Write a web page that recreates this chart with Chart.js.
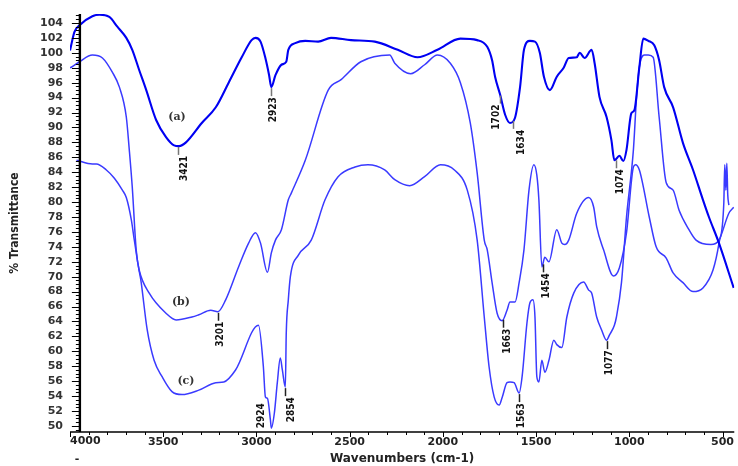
<!DOCTYPE html>
<html><head><meta charset="utf-8">
<script src="https://cdn.jsdelivr.net/npm/chart.js@4.4.1/dist/chart.umd.min.js"></script>
<style>html,body{margin:0;padding:0;background:#fff;}#wrap{width:738px;height:466px;}</style>
</head><body><div id="wrap"><canvas id="c" width="738" height="466"></canvas></div>
<script>
// ---- data (wavenumber cm-1, % transmittance) ----
const aWave = [4000,3976,3949,3880,3842,3789,3746,3698,3666,3629,3591,3538,3485,3442,3415,3378,3293,3218,3149,3079,3026,3005,2978,2952,2932,2920,2898,2866,2840,2829,2792,2738,2669,2600,2493,2365,2242,2136,2029,1906,1816,1762,1736,1720,1693,1666,1640,1613,1586,1565,1533,1506,1480,1458,1426,1389,1352,1325,1282,1266,1240,1202,1186,1160,1122,1096,1080,1053,1032,1015,989,973,946,925,898,866,840,813,765,712,658,605,573,519,440];
const aT    = [100.3,102.8,103.7,104.9,105.1,104.8,103.5,102.0,100.4,97.7,95.0,91.0,88.7,87.6,87.5,88.0,90.6,92.7,96.0,99.4,101.7,102.0,101.5,99.3,97.0,95.4,97.0,98.4,98.8,100.4,101.3,101.6,101.5,102.0,101.7,101.5,100.4,99.4,100.4,101.9,101.7,100.8,99.0,96.8,94.4,91.7,90.6,91.3,95.4,100.4,101.6,101.5,100.0,96.8,95.0,96.8,98.0,99.3,99.4,100.0,99.3,100.4,98.6,94.1,91.4,88.3,85.6,86.2,85.5,87.0,91.9,92.3,98.1,101.9,101.6,101.0,99.0,95.4,92.7,87.9,84.3,80.3,78.0,74.5,68.5];

const bWave = [3965,3880,3858,3805,3762,3719,3698,3671,3655,3629,3575,3485,3431,3346,3309,3245,3207,3165,3096,3042,3005,2978,2941,2920,2898,2866,2829,2813,2738,2615,2546,2440,2285,2258,2173,2098,2029,1960,1906,1853,1816,1778,1762,1736,1709,1682,1656,1640,1613,1591,1565,1538,1512,1496,1485,1469,1453,1431,1389,1362,1346,1325,1282,1218,1191,1175,1138,1085,1053,1015,978,967,946,893,856,802,765,712,658,605,551,519,493,488,482,477,472,466];
const bT    = [85.6,85.1,85.1,84.3,83.2,81.6,80.6,77.6,74.9,70.9,67.8,65.1,64.2,64.6,64.9,65.5,65.3,66.9,71.3,74.5,75.9,74.5,70.6,73.2,74.9,76.3,80.3,81.2,85.6,95.0,96.4,98.8,99.7,98.6,97.2,98.4,99.7,98.6,96.0,90.6,83.9,74.9,73.6,69.2,65.1,64.1,65.5,66.6,66.6,69.2,73.6,81.6,85.0,83.6,80.3,71.3,72.6,72.0,76.3,74.5,74.3,74.9,78.5,80.6,79.3,76.7,73.6,70.1,71.2,75.9,84.7,85.0,84.3,78.0,74.0,72.5,70.5,69.2,68.0,68.5,70.9,74.5,79.9,85.0,81.6,85.2,81.0,79.6];

const cWave = [4000,3991,3949,3880,3826,3773,3735,3698,3682,3666,3645,3618,3586,3549,3506,3453,3399,3309,3218,3175,3112,2989,2963,2952,2941,2925,2920,2904,2888,2872,2861,2845,2840,2829,2818,2775,2706,2632,2562,2471,2402,2312,2258,2178,2098,2013,1938,1869,1816,1778,1752,1725,1698,1682,1656,1640,1618,1591,1575,1549,1533,1517,1506,1496,1485,1469,1453,1431,1405,1389,1362,1335,1298,1245,1218,1202,1175,1149,1122,1106,1080,1069,1042,1015,978,962,946,919,898,872,840,802,765,733,680,642,562,519,466,440];
const cT    = [98.0,98.1,98.8,99.7,99.3,97.4,95.4,91.4,87.0,82.0,73.6,69.2,62.9,58.8,56.6,54.6,54.2,54.8,55.8,55.9,57.5,63.5,58.0,53.9,53.7,50.8,49.7,51.7,55.8,59.1,57.5,55.2,62.5,66.9,70.0,72.9,74.9,80.3,83.4,84.7,85.0,84.3,83.0,82.2,83.4,85.0,84.3,81.6,74.9,64.6,57.9,53.9,52.8,53.8,55.8,55.9,55.8,54.4,56.6,63.8,66.5,66.9,64.6,56.6,55.9,58.8,57.2,58.8,61.5,60.9,60.5,64.6,67.8,69.3,68.2,67.8,64.6,62.9,61.5,62.2,63.5,64.6,69.2,78.0,87.0,93.7,98.1,99.7,99.7,99.4,91.4,82.6,81.6,78.9,76.3,74.9,74.3,74.9,78.5,79.3];

const xTicks = [4000,3500,3000,2500,2000,1500,1000,500];
const yTicks = [50,52,54,56,58,60,62,64,66,68,70,72,74,76,78,80,82,84,86,88,90,92,94,96,98,100,102,104];
const seriesNames = ['(a)','(b)','(c)'];
const peakLabels = [
  {text:'3421', s:0, w:3421, dx:6},
  {text:'2923', s:0, w:2920, dx:2},
  {text:'1702', s:0, w:1693, dx:-4},
  {text:'1634', s:0, w:1624, dx:8},
  {text:'1074', s:0, w:1074, dx:5},
  {text:'3201', s:1, w:3207, dx:3},
  {text:'1663', s:1, w:1677, dx:4},
  {text:'1454', s:1, w:1463, dx:3},
  {text:'2854', s:2, w:2845, dx:6},
  {text:'1563', s:2, w:1591, dx:2},
  {text:'1077', s:2, w:1122, dx:3},
  {text:'2924', s:2, w:2920, dx:-10, left:true}
];
const nameAt = [{w:3426,t:91.4},{w:3405,t:66.6},{w:3378,t:56.0}];

const NARROW = '"Liberation Sans Narrow", "Arial Narrow", "DejaVu Sans Condensed", sans-serif';
const W = [aWave,bWave,cWave], T = [aT,bT,cT];
function interp(ws, ts, w){
  for (let i=0;i<ws.length-1;i++){
    if (w<=ws[i] && w>=ws[i+1]){ const f=(w-ws[i])/(ws[i+1]-ws[i]); return ts[i]+f*(ts[i+1]-ts[i]); }
  }
  return ts[ts.length-1];
}
const toXY = (ws,ts)=>ws.map((w,i)=>({x:w,y:ts[i]}));

const decor = {
  id:'decor',
  afterDatasetsDraw(chart){
    const {ctx, chartArea:ca, scales:{x,y}} = chart;
    ctx.save();
    ctx.strokeStyle='#000';
    const ax = x.getPixelForValue(3947);
    ctx.lineWidth=2.4;
    ctx.beginPath(); ctx.moveTo(ax, ca.top); ctx.lineTo(ax, ca.bottom); ctx.stroke();
    ctx.lineWidth=1;
    for (let v=49.5; v<=105.01; v+=0.5){
      const py=Math.round(y.getPixelForValue(v))+0.5;
      const major = Math.abs(v/2-Math.round(v/2))<1e-6;
      ctx.beginPath(); ctx.moveTo(ax-(major?8:4), py); ctx.lineTo(ax, py); ctx.stroke();
    }
    ctx.lineWidth=1.6;
    ctx.beginPath(); ctx.moveTo(ca.left, ca.bottom); ctx.lineTo(ca.right, ca.bottom); ctx.stroke();
    ctx.lineWidth=1;
    for (let v=4000; v>=500; v-=100){
      const px=Math.round(x.getPixelForValue(v))+0.5;
      const major = v%500===0;
      ctx.beginPath(); ctx.moveTo(px, ca.bottom); ctx.lineTo(px, ca.bottom+(major?5:3)); ctx.stroke();
    }
    ctx.fillStyle='#222';
    ctx.font='bold 11px "DejaVu Sans"';
    ctx.textAlign='left'; ctx.textBaseline='top';
    ctx.fillText(String(xTicks[0]), x.getPixelForValue(xTicks[0]), ca.bottom+4);
    ctx.textAlign='center'; ctx.textBaseline='middle';
    ctx.fillText('-', x.getPixelForValue(xTicks[0])+7, ca.bottom+27);
    ctx.font='bold 11px "DejaVu Serif"'; ctx.fillStyle='#333';
    nameAt.forEach((p,i)=>ctx.fillText(seriesNames[i], x.getPixelForValue(p.w), y.getPixelForValue(p.t)));
    ctx.font='bold 10px ' + NARROW;
    peakLabels.forEach(p=>{
      const px = x.getPixelForValue(p.w);
      const py = y.getPixelForValue(interp(W[p.s],T[p.s],p.w));
      ctx.fillStyle='#111';
      if (p.left){
        ctx.save(); ctx.translate(px+p.dx, py); ctx.rotate(-Math.PI/2);
        ctx.textAlign='left'; ctx.textBaseline='middle'; ctx.fillText(p.text,0,0); ctx.restore();
        return;
      }
      ctx.strokeStyle = p.s===0 ? '#777' : '#222'; ctx.lineWidth=1.5;
      ctx.beginPath(); ctx.moveTo(Math.round(px)+0.5, py+1); ctx.lineTo(Math.round(px)+0.5, py+9); ctx.stroke();
      ctx.save(); ctx.translate(px+p.dx, py+10); ctx.rotate(-Math.PI/2);
      ctx.textAlign='right'; ctx.textBaseline='middle'; ctx.fillText(p.text,0,0); ctx.restore();
    });
    ctx.restore();
  }
};

new Chart(document.getElementById('c'), {
  type:'line',
  data:{ datasets:[
    {data:toXY(aWave,aT), borderColor:'#0000f2', borderWidth:2.1},
    {data:toXY(bWave,bT), borderColor:'#3a3aff', borderWidth:1.5},
    {data:toXY(cWave,cT), borderColor:'#3a3aff', borderWidth:1.5}
  ]},
  options:{
    responsive:false, animation:false, devicePixelRatio:1,
    layout:{padding:{top:14,left:0,right:0,bottom:0}},
    elements:{point:{radius:0}, line:{cubicInterpolationMode:'monotone', fill:false}},
    plugins:{legend:{display:false}, tooltip:{enabled:false}},
    scales:{
      x:{type:'linear', reverse:true, min:437, max:4000,
        grid:{display:false, drawTicks:false}, border:{display:false},
        afterBuildTicks(s){ s.ticks = xTicks.slice(1).map(v=>({value:v})); },
        afterFit(s){ s.height=34; },
        ticks:{autoSkip:false, maxRotation:0, padding:4, color:'#222', font:{family:'"DejaVu Sans"', size:11, weight:'bold'}, callback:v=>String(v)},
        title:{display:true, text:'Wavenumbers (cm-1)', color:'#222', padding:{top:0,bottom:0}, font:{family:'"DejaVu Sans"', size:12, weight:'bold'}}
      },
      y:{type:'linear', min:49.19, max:105.2,
        grid:{display:false, drawTicks:false}, border:{display:false},
        afterBuildTicks(s){ s.ticks = yTicks.map(v=>({value:v})); },
        afterFit(s){ s.width=70; },
        ticks:{autoSkip:false, padding:7, color:'#333', font:{family:'"DejaVu Sans"', size:11, weight:'bold'}, callback:v=>String(v)},
        title:{display:true, text:'% Transmittance', color:'#222', padding:{top:8,bottom:0}, font:{family:NARROW, size:12, weight:'bold'}}
      }
    }
  },
  plugins:[decor]
});
</script></body></html>
